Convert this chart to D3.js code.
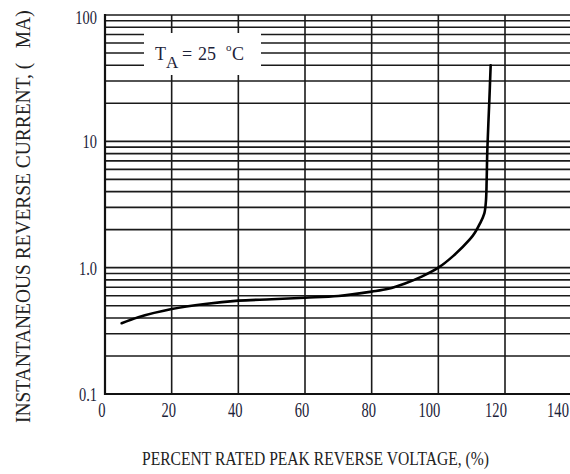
<!DOCTYPE html>
<html>
<head>
<meta charset="utf-8">
<script src="https://cdn.jsdelivr.net/npm/d3@7"></script>
<style>
  html, body { margin: 0; padding: 0; background: #fff; }
  svg { display: block; }
  text { font-family: "Liberation Serif", "Times New Roman", serif; white-space: pre; }
</style>
</head>
<body>
<svg id="chart" width="570" height="474"></svg>
<script>
// ---- data ----
const voltagePct = [5, 10, 20, 30, 40, 50, 60, 70, 80, 85, 90, 95, 100, 104.5, 109.5, 111, 112.5, 113.8, 114.3, 114.5, 114.7, 115.3, 115.7];
const currentMA  = [0.363, 0.405, 0.47, 0.516, 0.548, 0.562, 0.578, 0.597, 0.646, 0.68, 0.75, 0.85, 1.0, 1.24, 1.68, 1.90, 2.24, 2.69, 3.43, 4.95, 8.55, 21, 40];
const xTicks = [0, 20, 40, 60, 80, 100, 120, 140];
const yMajorTicks = [0.1, 1, 10, 100];
const yMajorLabels = ["0.1", "1.0", "10", "100"];
const xTitle = "PERCENT RATED PEAK REVERSE VOLTAGE, (%)";
const yTitle = "INSTANTANEOUS REVERSE CURRENT, (   MA)";

// ---- layout ----
const svg = d3.select("#chart");
const pLeft = 105, pTop = 15, pBottom = 394, pRight = 570;
const x = d3.scaleLinear().domain([0, 120]).range([105, 505]);
const y = d3.scaleLog().domain([0.1, 100]).range([pBottom, pTop]);

const gridColor = "#1a1a1a";
const textColor = "#1c2238";

// horizontal grid lines (log minor)
const yGrid = [];
for (let d = 0.1; d < 99; d *= 10) {
  for (let k = 1; k <= 9; k++) yGrid.push(+(d * k).toPrecision(3));
}
yGrid.push(100);

svg.append("g").selectAll("line").data(yGrid).join("line")
  .attr("x1", pLeft).attr("x2", pRight)
  .attr("y1", d => y(d)).attr("y2", d => y(d))
  .attr("stroke", gridColor).attr("stroke-width", 1.6);

// vertical grid lines
svg.append("g").selectAll("line").data(xTicks.filter(v => v > 0)).join("line")
  .attr("x1", d => x(d)).attr("x2", d => x(d))
  .attr("y1", pTop).attr("y2", pBottom)
  .attr("stroke", gridColor).attr("stroke-width", 1.6);

// frame (left + bottom)
svg.append("line").attr("x1", pLeft).attr("x2", pLeft).attr("y1", pTop - 1).attr("y2", pBottom + 1)
  .attr("stroke", "#111").attr("stroke-width", 2.2);
svg.append("line").attr("x1", pLeft).attr("x2", pRight).attr("y1", pBottom).attr("y2", pBottom)
  .attr("stroke", "#111").attr("stroke-width", 2.2);

// legend box with temperature
svg.append("rect").attr("x", 144).attr("y", 33).attr("width", 117).attr("height", 42).attr("fill", "#fff");
const lg = svg.append("g").attr("fill", textColor);
lg.append("text").attr("x", 155).attr("y", 60).attr("font-size", 18).text("T");
lg.append("text").attr("x", 166).attr("y", 68).attr("font-size", 17).text("A");
lg.append("text").attr("x", 182).attr("y", 60).attr("font-size", 18).text("=");
lg.append("text").attr("x", 198).attr("y", 60).attr("font-size", 18).text("25");
lg.append("text").attr("x", 226).attr("y", 51).attr("font-size", 11).text("o");
lg.append("text").attr("x", 232).attr("y", 60).attr("font-size", 18).text("C");

// curve
const pts = voltagePct.map((v, i) => [v, currentMA[i]]);
const line = d3.line().x(d => x(d[0])).y(d => y(d[1])).curve(d3.curveCatmullRom.alpha(0.5));
svg.append("path").attr("d", line(pts))
  .attr("fill", "none").attr("stroke", "#000").attr("stroke-width", 2.6)
  .attr("stroke-linecap", "round");

// x tick labels
svg.append("g").selectAll("g").data(xTicks).join("g")
  .attr("transform", d => `translate(${Math.min(x(d) - (d >= 100 ? 9 : 3), 558)},417) scale(0.66,1)`)
  .append("text").attr("text-anchor", "middle").attr("font-size", 22)
  .attr("fill", textColor).text(d => d);

// y tick labels
svg.append("g").selectAll("g").data(yMajorTicks).join("g")
  .attr("transform", d => `translate(97,${Math.max(y(d) + 7, 24)}) scale(0.76,1)`)
  .append("text").attr("text-anchor", "end").attr("font-size", 19)
  .attr("fill", textColor).text((d, i) => yMajorLabels[i]);

// axis titles (condensed via horizontal scale to fit measured length)
const xt = svg.append("text").attr("font-size", 19.5).attr("fill", "#222").text(xTitle);
const xk = 347 / xt.node().getComputedTextLength();
xt.attr("transform", `translate(142,464.5) scale(${xk},1)`);

const yt = svg.append("text").attr("font-size", 21).attr("fill", "#222").text(yTitle);
const yk = 413 / yt.node().getComputedTextLength();
yt.attr("transform", `translate(29.5,423) rotate(-90) scale(${yk},1)`);
</script>
</body>
</html>
